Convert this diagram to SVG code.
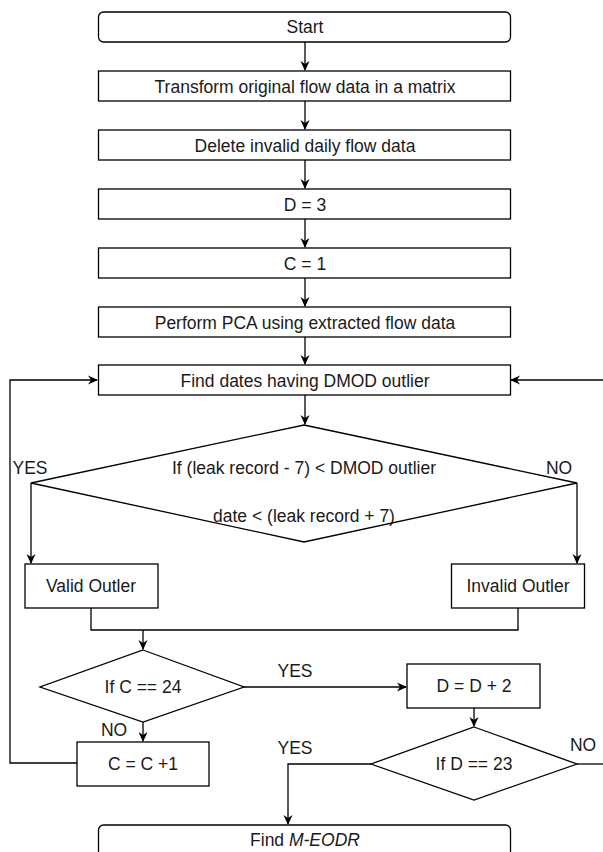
<svg xmlns="http://www.w3.org/2000/svg" width="603" height="852" viewBox="0 0 603 852">
<defs>
<marker id="ah" markerWidth="10" markerHeight="10" refX="9" refY="5" orient="auto" markerUnits="userSpaceOnUse">
<path d="M0,0.5 L10,5 L0,9.5 L3,5 Z" fill="#000"/>
</marker>
<style>
.b{fill:#fff;stroke:#000;stroke-width:1.3}
.t{font-family:"Liberation Sans",Arial,sans-serif;font-size:17.5px;fill:#1a1a1a;text-anchor:middle}
.c{fill:none;stroke:#000;stroke-width:1.3}
.a{marker-end:url(#ah)}
</style>
</defs>
<rect width="603" height="852" fill="#fff"/>
<g id="connectors">
<path class="c a" d="M305,42 V70"/>
<path class="c a" d="M305,101 V129"/>
<path class="c a" d="M305,160 V188"/>
<path class="c a" d="M305,219 V247"/>
<path class="c a" d="M305,278 V306"/>
<path class="c a" d="M305,337 V364"/>
<path class="c a" d="M305,395 V424"/>
<path class="c a" d="M603,380 H511"/>
<path class="c a" d="M31,483 V563"/>
<path class="c a" d="M577,483 V563"/>
<path class="c" d="M91,608 V630 H518 V608"/>
<path class="c a" d="M143,630 V649"/>
<path class="c a" d="M143,722 V741"/>
<path class="c a" d="M77,763 H10 V380 H97"/>
<path class="c a" d="M244,687 H406"/>
<path class="c a" d="M474,708 V726"/>
<path class="c" d="M577,764 H603"/>
<path class="c a" d="M371,764 H288 V824"/>
</g>
<g id="start"><rect class="b" x="98.5" y="12" width="412" height="30" rx="5"/><text class="t" x="305" y="33">Start</text></g>
<g id="transform"><rect class="b" x="98.5" y="71" width="412" height="30"/><text class="t" x="305" y="92.5">Transform original flow data in a matrix</text></g>
<g id="delete"><rect class="b" x="98.5" y="130" width="412" height="30"/><text class="t" x="305" y="151.5">Delete invalid daily flow data</text></g>
<g id="d3"><rect class="b" x="98.5" y="189" width="412" height="30"/><text class="t" x="305" y="210.5">D = 3</text></g>
<g id="c1"><rect class="b" x="98.5" y="248" width="412" height="30"/><text class="t" x="305" y="269.5">C = 1</text></g>
<g id="pca"><rect class="b" x="98.5" y="307" width="412" height="30"/><text class="t" x="305" y="328.5">Perform PCA using extracted flow data</text></g>
<g id="find"><rect class="b" x="98.5" y="365" width="412" height="30"/><text class="t" x="305" y="386.5">Find dates having DMOD outlier</text></g>
<g id="cond1"><path class="b" d="M304,425 L577,483 L304,542 L31,483 Z"/>
<text class="t" x="304" y="474">If (leak record - 7) &lt; DMOD outlier</text>
<text class="t" x="304" y="522">date &lt; (leak record + 7)</text></g>
<g id="labels">
<text class="t" x="30" y="474">YES</text>
<text class="t" x="559" y="474">NO</text>
<text class="t" x="295" y="677">YES</text>
<text class="t" x="114" y="736">NO</text>
<text class="t" x="295" y="754">YES</text>
<text class="t" x="583" y="751">NO</text>
</g>
<g id="valid"><rect class="b" x="25" y="564" width="133" height="44"/><text class="t" x="91" y="592">Valid Outler</text></g>
<g id="invalid"><rect class="b" x="451.5" y="564" width="133" height="44"/><text class="t" x="518" y="592">Invalid Outler</text></g>
<g id="condC"><path class="b" d="M143,650 L244,687 L143,722 L40,687 Z"/><text class="t" x="143" y="693">If C == 24</text></g>
<g id="cinc"><rect class="b" x="77" y="742" width="132" height="44"/><text class="t" x="143" y="770">C = C +1</text></g>
<g id="dinc"><rect class="b" x="407" y="664" width="133" height="44"/><text class="t" x="474" y="692">D = D + 2</text></g>
<g id="condD"><path class="b" d="M474,727 L577,764 L474,800 L371,764 Z"/><text class="t" x="474" y="770">If D == 23</text></g>
<g id="eodr"><rect class="b" x="98.5" y="825" width="412" height="32" rx="5"/><text class="t" x="305" y="846">Find <tspan font-style="italic">M-EODR</tspan></text></g>
</svg>
